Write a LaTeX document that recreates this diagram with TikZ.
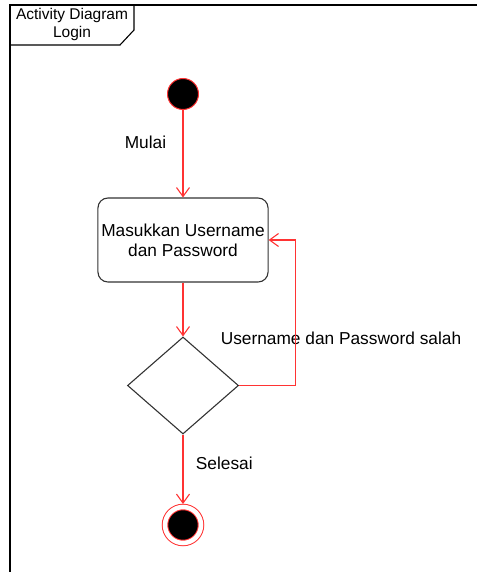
\documentclass[tikz,border=0pt]{standalone}
\usepackage{fontspec}
\setmainfont{Liberation Sans}
\usetikzlibrary{shapes.geometric,arrows.meta,positioning}
\definecolor{flowred}{HTML}{FF3333}

\begin{document}
\begin{tikzpicture}[x=1pt,y=-1pt,
  every node/.style={font=\fontsize{17.3}{20}\selectfont},
  flow/.style={draw=flowred,line width=1.1pt,-{Straight Barb[length=9pt,width=13pt]}},
  startnode/.style={circle,fill=black,draw=flowred,line width=1pt,minimum size=31pt,inner sep=0pt},
  endnode/.style={circle,fill=black,draw=flowred,line width=1pt,double=white,
                  double distance=4.5pt,minimum size=36pt,inner sep=0pt,outer sep=3pt},
  actnode/.style={draw=black!80,line width=1.1pt,rounded corners=10pt,align=center,
                  minimum width=168pt,minimum height=84pt},
  decnode/.style={diamond,draw=black!80,line width=1.1pt,minimum width=111pt,
                  minimum height=97pt,inner sep=0pt}]
\useasboundingbox (0,0) rectangle (477,572);
% frame
\draw[line width=1.4pt] (10,572) -- (10,5) -- (477,5);
\draw[line width=1.1pt] (10,45) -- (120,45) -- (134,30) -- (134,5);
\node[align=center,font=\fontsize{15.5}{18}\selectfont] (title) at (72,24) {Activity Diagram\\Login};
% nodes
\node[startnode] (start) at (183,94) {};
\node[actnode]   (act)   at (183,240) {Masukkan Username\\dan Password};
\node[decnode]   (dec)   at (183,385.5) {};
\node[endnode]   (stop)  at (183,525) {};
\node (salah) at (341,338) {Username dan Password salah};
% edges
\draw[flow] (start) -- (act) node[pos=.37,left=13pt] {Mulai};
\draw[flow] (act) -- (dec);
\draw[flow] (dec.east) -- ++(56,0) |- (act.east);
\draw[flow] (dec) -- (stop) node[pos=.41,right=9pt] {Selesai};
\end{tikzpicture}
\end{document}
